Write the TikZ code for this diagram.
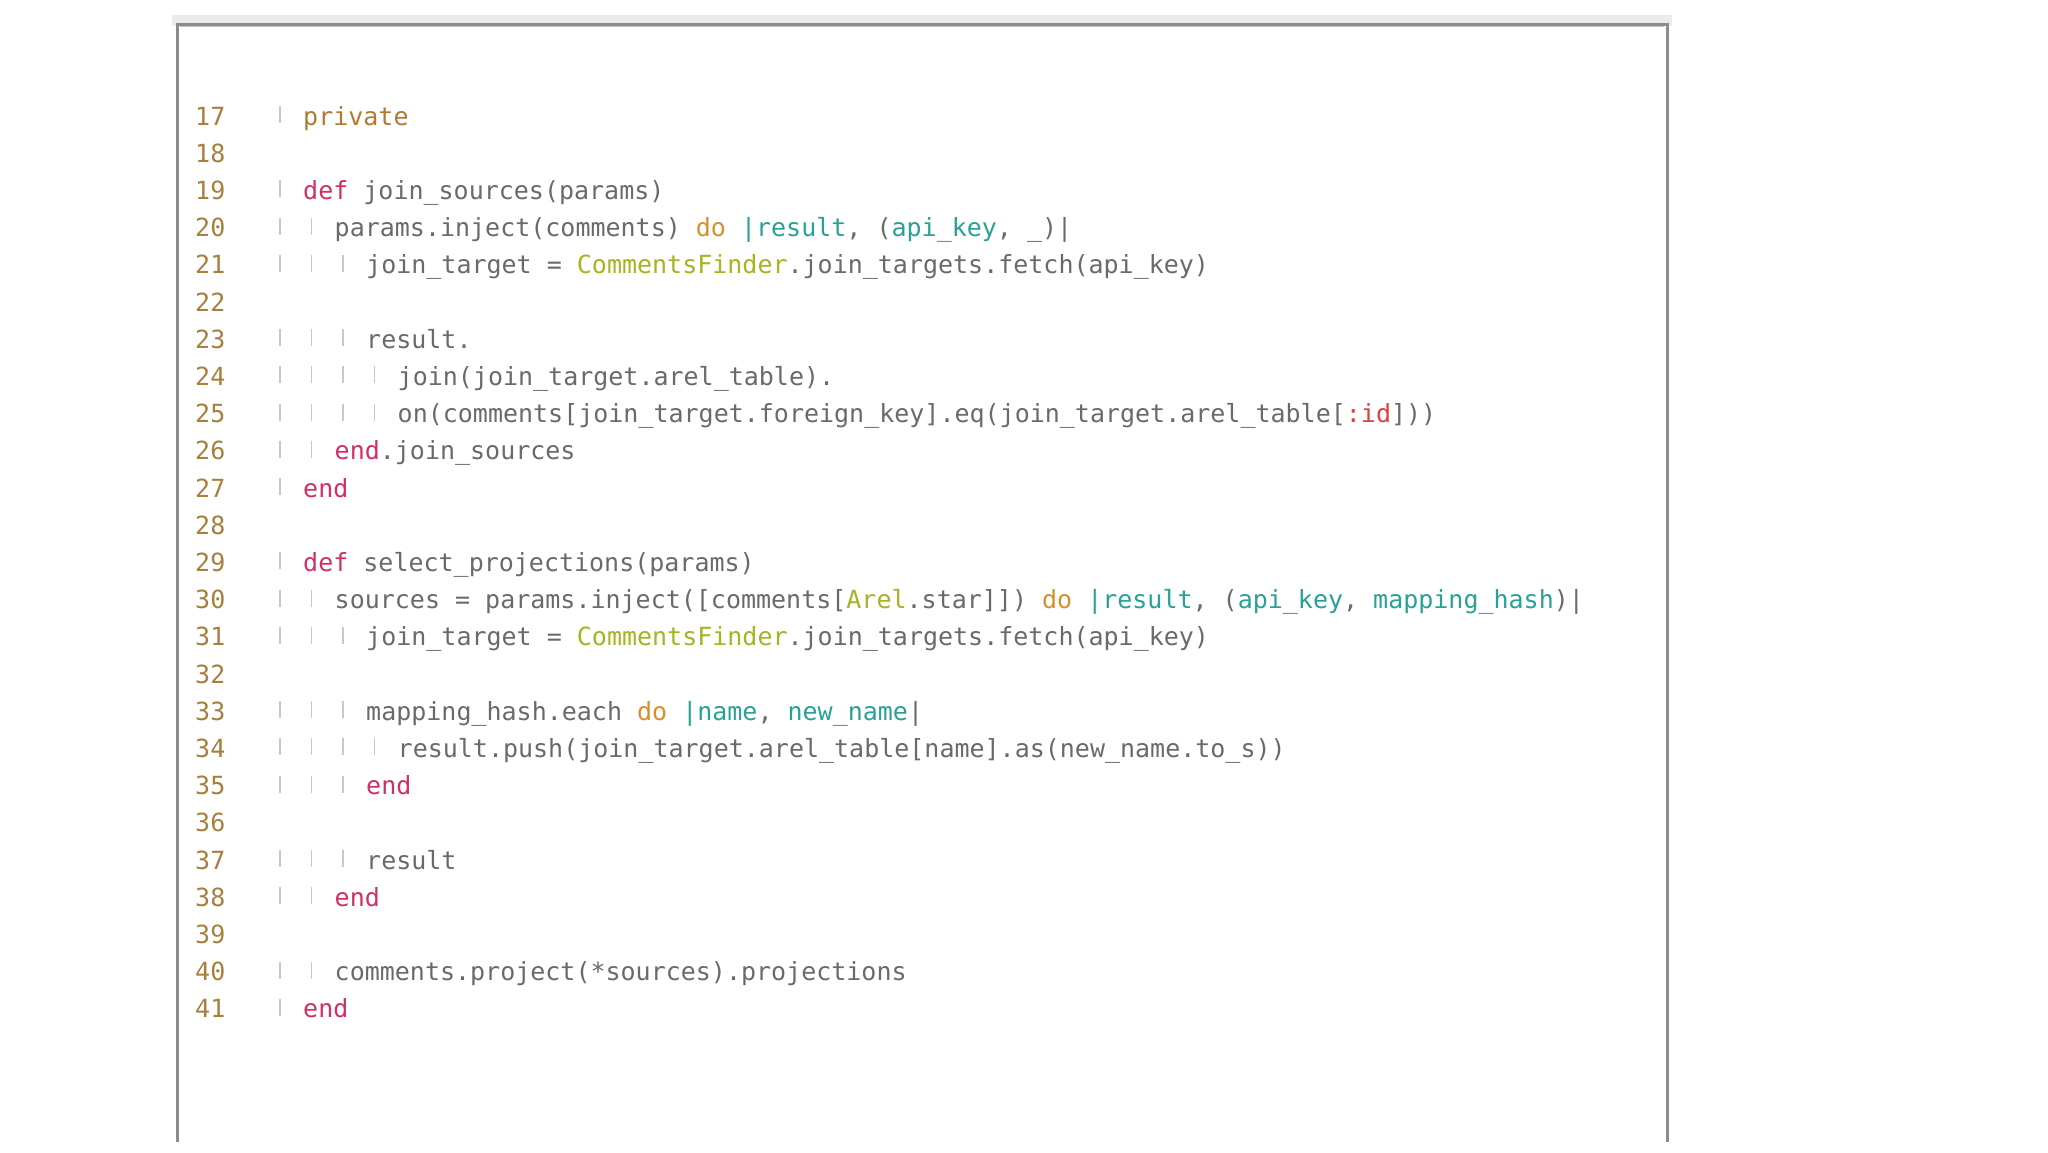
\documentclass[tikz,border=0pt]{standalone}
\usepackage{fontspec}
\setmonofont{DejaVu Sans Mono}
\definecolor{txt}{HTML}{6A6A6A}
\definecolor{kwc}{HTML}{D0306A}
\definecolor{prc}{HTML}{B07A35}
\definecolor{doc}{HTML}{D6902A}
\definecolor{vrc}{HTML}{2AA198}
\definecolor{clc}{HTML}{A4B422}
\definecolor{syc}{HTML}{E0403A}
\definecolor{lnc}{HTML}{A8803E}
\definecolor{gdc}{HTML}{C8C8C8}
\newcommand{\Ckw}[1]{\textcolor{kwc}{#1}}
\newcommand{\Cdo}[1]{\textcolor{doc}{#1}}
\newcommand{\Cvr}[1]{\textcolor{vrc}{#1}}
\newcommand{\Ccl}[1]{\textcolor{clc}{#1}}
\newcommand{\Csy}[1]{\textcolor{syc}{#1}}
\tikzset{code/.style={anchor=base west,inner sep=0pt,font=\ttfamily\fontsize{25}{30}\selectfont,text=txt},
 lnum/.style={anchor=base west,inner sep=0pt,font=\ttfamily\fontsize{25}{30}\selectfont,text=lnc}}
\begin{document}
\begin{tikzpicture}[x=1pt,y=-1pt]
\useasboundingbox (0,0) rectangle (2048,1152);
\fill[white] (0,0) rectangle (2048,1152);
\fill[black!8] (172,15) rectangle (1672,26);
\draw[black!45,line width=3pt] (177,1142) -- (177,24) -- (1667,24) -- (1667,1142);
\draw[black!25,line width=1pt] (180,26) -- (1664,26);
% line numbers
\foreach \n in {17,...,41}{
  \node[lnum] (ln\n) at (195,{125+(\n-17)*37.2}) {\n};
}
% guides: line/indent
\foreach \n/\ind in {17/0,19/0,20/1,21/2,23/2,24/3,25/3,26/1,27/0,29/0,30/1,31/2,33/2,34/3,35/2,37/2,38/1,40/1,41/0}{
  \foreach \k in {0,...,\ind}{
    \draw[gdc,line width=1.2pt] ({280+\k*31.5},{125+(\n-17)*37.2-19}) -- ++(0,17);
  }
}
\newcommand{\cl}[3]{\node[code] (c#1) at ({303+#2*31.5},{125+(#1-17)*37.2}) {#3};}
\cl{17}{0}{\textcolor{prc}{private}}
\cl{19}{0}{\Ckw{def} join\_sources(params)}
\cl{20}{1}{params.inject(comments) \Cdo{do} \Cvr{|result}, (\Cvr{api\_key}, \_)|}
\cl{21}{2}{join\_target = \Ccl{CommentsFinder}.join\_targets.fetch(api\_key)}
\cl{23}{2}{result.}
\cl{24}{3}{join(join\_target.arel\_table).}
\cl{25}{3}{on(comments[join\_target.foreign\_key].eq(join\_target.arel\_table[\Csy{:id}]))}
\cl{26}{1}{\Ckw{end}.join\_sources}
\cl{27}{0}{\Ckw{end}}
\cl{29}{0}{\Ckw{def} select\_projections(params)}
\cl{30}{1}{sources = params.inject([comments[\Ccl{Arel}.star]]) \Cdo{do} \Cvr{|result}, (\Cvr{api\_key}, \Cvr{mapping\_hash})|}
\cl{31}{2}{join\_target = \Ccl{CommentsFinder}.join\_targets.fetch(api\_key)}
\cl{33}{2}{mapping\_hash.each \Cdo{do} \Cvr{|name}, \Cvr{new\_name}|}
\cl{34}{3}{result.push(join\_target.arel\_table[name].as(new\_name.to\_s))}
\cl{35}{2}{\Ckw{end}}
\cl{37}{2}{result}
\cl{38}{1}{\Ckw{end}}
\cl{40}{1}{comments.project(*sources).projections}
\cl{41}{0}{\Ckw{end}}
\end{tikzpicture}
\end{document}
